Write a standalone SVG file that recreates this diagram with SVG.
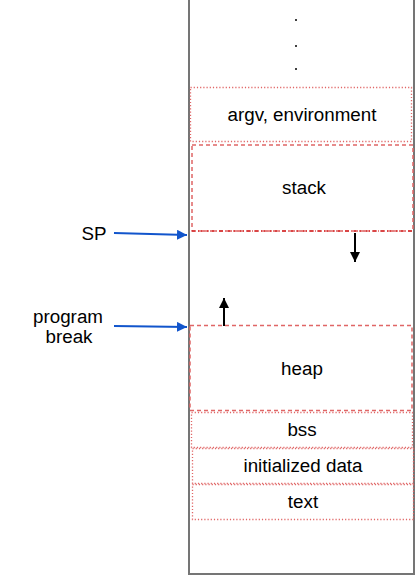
<svg xmlns="http://www.w3.org/2000/svg" width="416" height="575" viewBox="0 0 416 575">
<defs>
<style>
text{font-family:"Liberation Sans",Arial,sans-serif;font-size:18.8px;fill:#000;text-anchor:middle}
.dot{fill:none;stroke:#e06666;stroke-width:1.3;stroke-dasharray:1.2 2}
.dash{fill:none;stroke:#e06666;stroke-width:1.5;stroke-dasharray:4 3}
</style>
<marker id="ab" viewBox="0 0 10 10" refX="10" refY="5" markerWidth="5" markerHeight="5" orient="auto"><path d="M0,0L10,5L0,10z" fill="#1155cc"/></marker>
<marker id="ak" viewBox="0 0 10 10" refX="10" refY="5" markerWidth="6" markerHeight="5" orient="auto" markerUnits="strokeWidth"><path d="M0,0L10,5L0,10z" fill="#000"/></marker>
</defs>
<g id="memory"><rect x="189" y="-1" width="225" height="575" fill="#fff" stroke="#757575" stroke-width="2"/></g>
<g id="dots"><circle cx="296" cy="20" r="1" fill="#000"/><circle cx="296" cy="46" r="1" fill="#000"/><circle cx="296" cy="69" r="1" fill="#000"/></g>
<g id="argv"><rect class="dot" x="190.5" y="87.5" width="221" height="54"/><text x="302" y="121">argv, environment</text></g>
<g id="stack"><rect class="dash" x="192" y="145" width="221" height="86"/><line x1="192" y1="231" x2="414" y2="231" stroke="#cc0000" stroke-width="1" stroke-dasharray="4 2 1 2"/><text x="304" y="194">stack</text></g>
<g id="heap"><rect class="dash" x="190" y="325.5" width="222" height="85"/><text x="302" y="375">heap</text></g>
<g id="bss"><rect class="dot" x="191.5" y="412.5" width="221" height="35"/><text x="302" y="436">bss</text></g>
<g id="idata"><rect class="dot" x="192.5" y="448.5" width="221" height="35"/><text x="303" y="472">initialized data</text></g>
<g id="text"><rect class="dot" x="192.5" y="484.5" width="221" height="35"/><text x="303" y="508">text</text></g>
<g id="labels"><text x="94" y="240">SP</text><text x="68" y="323">program</text><text x="69" y="343">break</text></g>
<g id="connectors">
<line x1="114" y1="233" x2="187" y2="235" stroke="#1155cc" stroke-width="2" marker-end="url(#ab)"/>
<line x1="114" y1="326" x2="187" y2="327" stroke="#1155cc" stroke-width="2" marker-end="url(#ab)"/>
<line x1="355" y1="233" x2="355" y2="262" stroke="#000" stroke-width="2" marker-end="url(#ak)"/>
<line x1="224" y1="326" x2="224" y2="298" stroke="#000" stroke-width="2" marker-end="url(#ak)"/>
</g>
</svg>
